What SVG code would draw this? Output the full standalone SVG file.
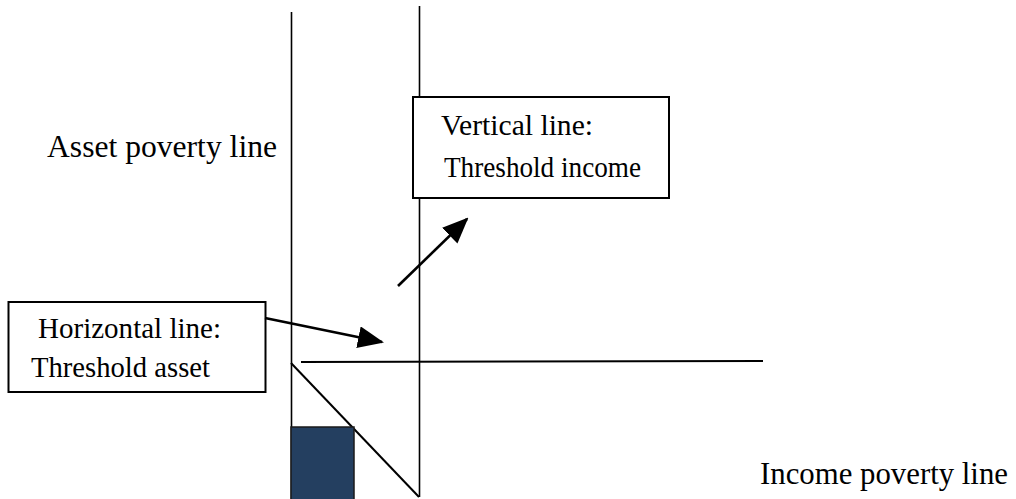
<svg xmlns="http://www.w3.org/2000/svg" width="1016" height="499" viewBox="0 0 1016 499">
  <style>
    .axis { stroke: #000; stroke-width: 1.6; fill: none; }
    .line { stroke: #000; stroke-width: 2; fill: none; }
    .box { fill: #fff; stroke: #000; stroke-width: 2; }
    .arrow { stroke: #000; stroke-width: 2.6; fill: none; marker-end: url(#head); }
    text { font-family: 'Liberation Serif', 'Times New Roman', 'DejaVu Serif', serif; fill: #000; }
  </style>
  <defs>
    <marker id="head" markerUnits="userSpaceOnUse" markerWidth="26" markerHeight="22" viewBox="0 0 26 22" refX="24" refY="11" orient="auto">
      <path d="M0,0 L26,11 L0,22 Z" fill="#000"/>
    </marker>
  </defs>
  <rect width="1016" height="499" fill="#fff"/>

  <!-- threshold lines and poverty region -->
  <g id="axes">
    <line class="axis" x1="291.5" y1="12" x2="291.5" y2="499"/>
    <line class="axis" x1="419.5" y1="6" x2="419.5" y2="497"/>
    <line class="line" x1="301" y1="362" x2="763" y2="361"/>
    <line class="line" x1="291" y1="363" x2="419" y2="497"/>
    <rect id="poverty-block" x="291" y="427" width="63" height="74" fill="#243F60" stroke="#1a1a1a" stroke-width="1.5"/>
  </g>

  <g id="asset-label">
    <text x="47" y="157" font-size="32" textLength="230" lengthAdjust="spacingAndGlyphs">Asset poverty line</text>
  </g>

  <g id="income-label">
    <text x="760" y="484" font-size="31" textLength="248" lengthAdjust="spacingAndGlyphs">Income poverty line</text>
  </g>

  <g id="vertical-box">
    <rect class="box" x="413" y="97" width="256" height="101"/>
    <text x="441" y="135" font-size="29" textLength="152" lengthAdjust="spacingAndGlyphs">Vertical line:</text>
    <text x="444" y="177" font-size="29" textLength="197" lengthAdjust="spacingAndGlyphs">Threshold income</text>
  </g>

  <g id="horizontal-box">
    <rect class="box" x="8.5" y="302" width="257" height="90"/>
    <text x="38" y="338" font-size="29" textLength="183" lengthAdjust="spacingAndGlyphs">Horizontal line:</text>
    <text x="31" y="377" font-size="29" textLength="179" lengthAdjust="spacingAndGlyphs">Threshold asset</text>
  </g>

  <g id="connectors">
    <line class="arrow" x1="265" y1="318" x2="382" y2="342"/>
    <line class="arrow" x1="398" y1="286" x2="467" y2="219"/>
  </g>
</svg>
